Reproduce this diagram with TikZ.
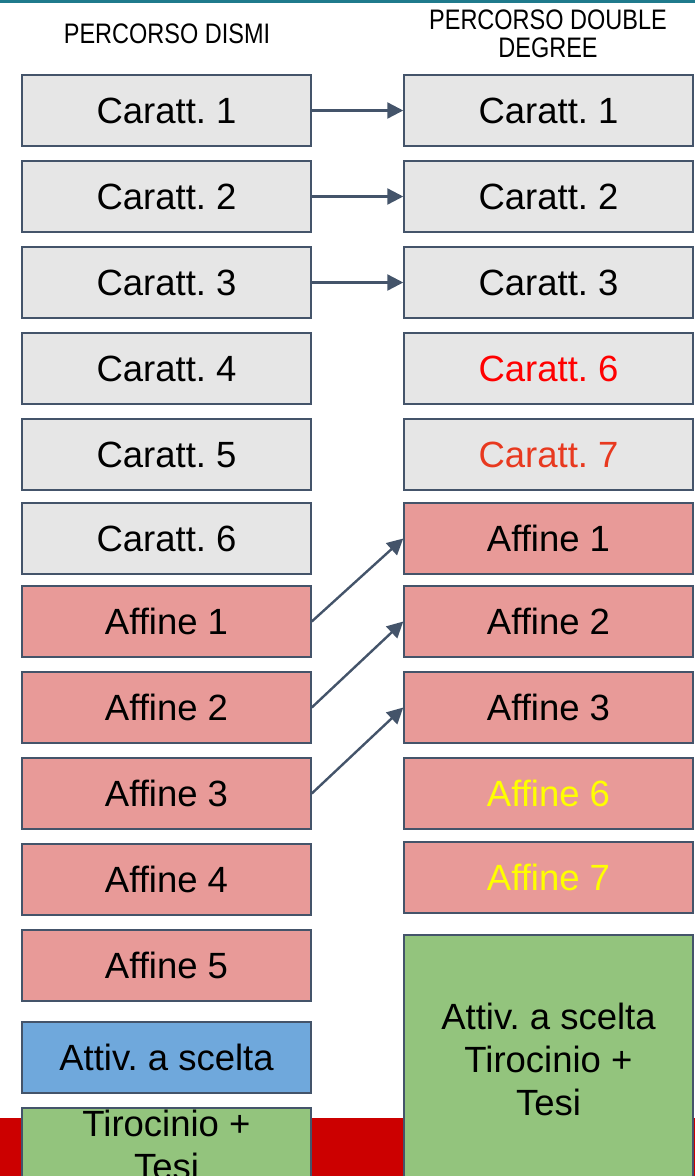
\documentclass[tikz,border=0pt]{standalone}
\usepackage{fontspec}
\setmainfont{Liberation Sans}
\usetikzlibrary{arrows.meta}
\frenchspacing
\definecolor{edge}{HTML}{44546A}
\definecolor{caratt}{HTML}{E6E6E6}
\definecolor{affine}{HTML}{E89A98}
\definecolor{scelta}{HTML}{6FA8DC}
\definecolor{tesi}{HTML}{93C47D}
\definecolor{band}{HTML}{CC0000}
\definecolor{topline}{HTML}{1F7A8C}
\definecolor{orangered}{HTML}{E8391F}
\definecolor{brightyellow}{HTML}{FFFF00}
\newcommand{\boxfont}{\fontsize{36.5}{43}\selectfont}
\newcommand{\hdr}[1]{\scalebox{1}[1.2]{\fontsize{23.5}{28}\selectfont #1}}
\tikzset{
  box/.style={draw=edge, line width=1.5pt, minimum width=289pt, minimum height=71pt,
    inner sep=0pt, font=\boxfont, align=center},
  cbox/.style={box, fill=caratt},
  abox/.style={box, fill=affine},
  link/.style={draw=edge, line width=2.4pt, -{Triangle[length=16pt,width=16pt]}},
}
\begin{document}
\begin{tikzpicture}[x=1pt,y=-1pt]
\useasboundingbox (0,0) rectangle (695,1176);
\clip (0,0) rectangle (695,1176);
% band along the bottom and thin rule along the top
\fill[band] (0,1118) rectangle (695,1176);
\fill[topline] (0,0) rectangle (695,3);
% column headings
\node (hl) at (167,34) {\hdr{PERCORSO DISMI}};
\node (hr1) at (548,20) {\hdr{PERCORSO DOUBLE}};
\node (hr2) at (548,48) {\hdr{DEGREE}};
% left column
\node[cbox] (l1) at (166.5,110.5) {Caratt. 1};
\node[cbox] (l2) at (166.5,196.5) {Caratt. 2};
\node[cbox] (l3) at (166.5,282.5) {Caratt. 3};
\node[cbox] (l4) at (166.5,368.5) {Caratt. 4};
\node[cbox] (l5) at (166.5,454.5) {Caratt. 5};
\node[cbox] (l6) at (166.5,538.5) {Caratt. 6};
\node[abox] (la1) at (166.5,621.5) {Affine 1};
\node[abox] (la2) at (166.5,707.5) {Affine 2};
\node[abox] (la3) at (166.5,793.5) {Affine 3};
\node[abox] (la4) at (166.5,879.5) {Affine 4};
\node[abox] (la5) at (166.5,965.5) {Affine 5};
\node[box, fill=scelta] (ls) at (166.5,1057.5) {Attiv. a scelta};
\node[box, fill=tesi, minimum height=74pt] (lt) at (166.5,1145) {Tirocinio +\\Tesi};
% right column
\node[cbox] (r1) at (548.5,110.5) {Caratt. 1};
\node[cbox] (r2) at (548.5,196.5) {Caratt. 2};
\node[cbox] (r3) at (548.5,282.5) {Caratt. 3};
\node[cbox, text=red] (r6) at (548.5,368.5) {Caratt. 6};
\node[cbox, text=orangered] (r7) at (548.5,454.5) {Caratt. 7};
\node[abox] (ra1) at (548.5,538.5) {Affine 1};
\node[abox] (ra2) at (548.5,621.5) {Affine 2};
\node[abox] (ra3) at (548.5,707.5) {Affine 3};
\node[abox, text=brightyellow] (ra6) at (548.5,793.5) {Affine 6};
\node[abox, text=brightyellow] (ra7) at (548.5,877.5) {Affine 7};
\node[box, fill=tesi, minimum height=260pt] (rt) at (548.5,1065) {};
\node[font=\boxfont, align=center] (rtt) at (548.5,1059) {Attiv. a scelta\\Tirocinio +\\Tesi};
% connections
\draw[link] (l1.east) -- (r1.west);
\draw[link] (l2.east) -- (r2.west);
\draw[link] (l3.east) -- (r3.west);
\draw[link] (la1.east) -- (ra1.west);
\draw[link] (la2.east) -- (ra2.west);
\draw[link] (la3.east) -- (ra3.west);
\end{tikzpicture}
\end{document}
